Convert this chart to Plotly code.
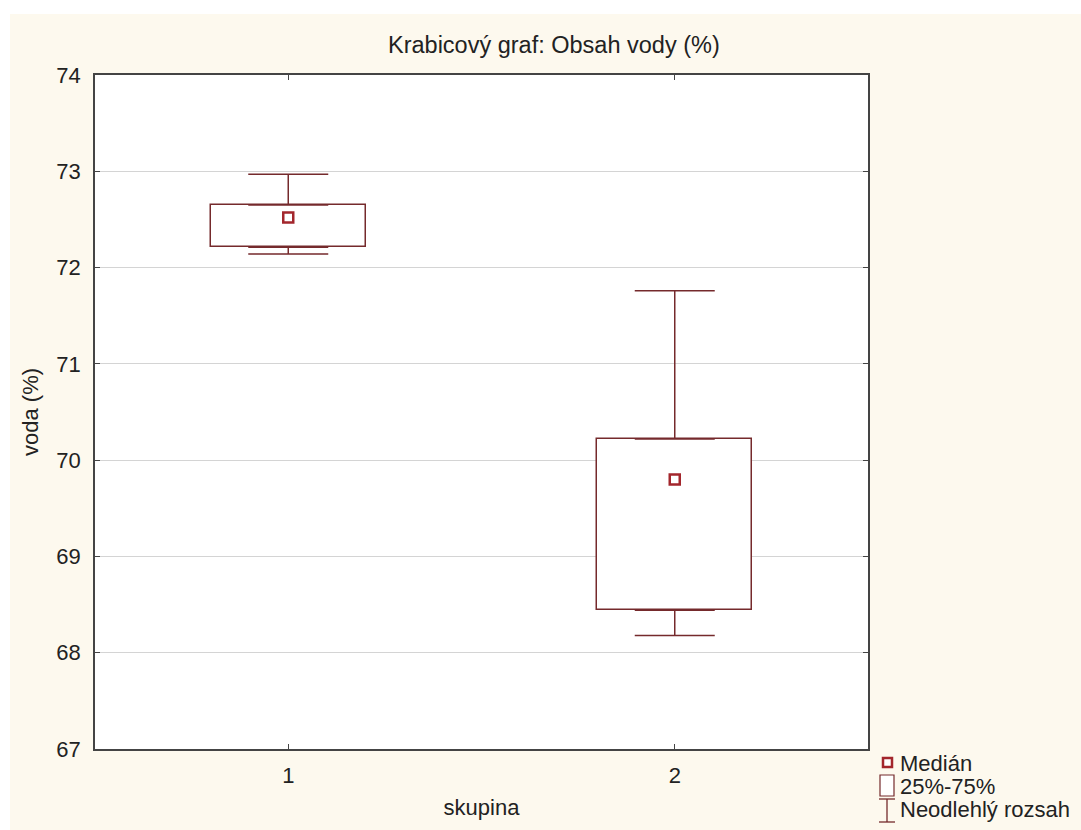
import plotly.graph_objects as go

# Box-plot statistics of water content per group
groups = [1, 2]
medians = [72.52, 69.80]
q1 = [72.21, 68.44]
q3 = [72.65, 70.22]
mins = [72.14, 68.18]
maxs = [72.97, 71.76]

W, H = 1081, 830
ML, MR, MT, MB = 95, 213, 75, 81
PW, PH = W - ML - MR, H - MT - MB

BOX_COLOR = "#752a2c"
MED_COLOR = "#a3262c"
TEXT = "#222222"
CREAM = "#fdf9ee"
FONT = "Liberation Sans, Arial, sans-serif"


def px(x):
    return (x - ML) / PW


def py(y):
    return (H - MB - y) / PH


fig = go.Figure()

# Interquartile boxes
fig.add_trace(go.Bar(
    x=groups,
    y=[b - a for a, b in zip(q1, q3)],
    base=q1,
    width=0.4,
    marker=dict(color="white", line=dict(color=BOX_COLOR, width=1.5)),
    showlegend=False,
    hoverinfo="skip",
))

# Upper whiskers from Q3 to max
fig.add_trace(go.Scatter(
    x=groups, y=q3, mode="markers",
    marker=dict(size=0.1, color="rgba(0,0,0,0)"),
    error_y=dict(type="data", symmetric=False,
                 array=[m - q for m, q in zip(maxs, q3)],
                 arrayminus=[0, 0],
                 color=BOX_COLOR, thickness=1.5, width=40),
    showlegend=False, hoverinfo="skip",
))

# Lower whiskers from min to Q1
fig.add_trace(go.Scatter(
    x=groups, y=q1, mode="markers",
    marker=dict(size=0.1, color="rgba(0,0,0,0)"),
    error_y=dict(type="data", symmetric=False,
                 array=[0, 0],
                 arrayminus=[q - m for m, q in zip(mins, q1)],
                 color=BOX_COLOR, thickness=1.5, width=40),
    showlegend=False, hoverinfo="skip",
))

# Medians
fig.add_trace(go.Scatter(
    x=groups, y=medians, mode="markers",
    marker=dict(symbol="square", size=10, color="white",
                line=dict(color=MED_COLOR, width=2.5)),
    showlegend=False,
))

shapes = [
    # white strips along the top and left page edges
    dict(type="rect", xref="paper", yref="paper", x0=px(0), x1=px(W), y0=py(14), y1=py(0),
         fillcolor="white", line=dict(width=0), layer="below"),
    dict(type="rect", xref="paper", yref="paper", x0=px(0), x1=px(10), y0=py(H), y1=py(0),
         fillcolor="white", line=dict(width=0), layer="below"),
    # legend symbols
    dict(type="rect", xref="paper", yref="paper", x0=px(883), x1=px(892), y0=py(767), y1=py(758),
         fillcolor="white", line=dict(color=MED_COLOR, width=2.5)),
    dict(type="rect", xref="paper", yref="paper", x0=px(880), x1=px(894), y0=py(796), y1=py(775),
         fillcolor="white", line=dict(color=BOX_COLOR, width=1.2)),
    dict(type="line", xref="paper", yref="paper", x0=px(887), x1=px(887), y0=py(822), y1=py(799),
         line=dict(color=BOX_COLOR, width=1.3)),
    dict(type="line", xref="paper", yref="paper", x0=px(879), x1=px(895), y0=py(799), y1=py(799),
         line=dict(color=BOX_COLOR, width=1.3)),
    dict(type="line", xref="paper", yref="paper", x0=px(879), x1=px(895), y0=py(822), y1=py(822),
         line=dict(color=BOX_COLOR, width=1.3)),
]

legend_items = [("Medián", 763), ("25%-75%", 786), ("Neodlehlý rozsah", 809)]
annotations = [
    dict(text=t, xref="paper", yref="paper", x=px(898), y=py(yc), xanchor="left", yanchor="middle",
         showarrow=False, font=dict(family=FONT, size=22, color=TEXT))
    for t, yc in legend_items
]
annotations.append(dict(
    text="Krabicový graf: Obsah vody (%)", xref="paper", yref="paper",
    x=px(554), y=py(45), xanchor="center", yanchor="middle", showarrow=False,
    font=dict(family=FONT, size=23.5, color=TEXT)))

fig.update_layout(
    width=W, height=H,
    margin=dict(l=ML, r=MR, t=MT, b=MB, pad=0),
    paper_bgcolor=CREAM,
    plot_bgcolor="white",
    font=dict(family=FONT, size=21, color=TEXT),
    bargap=0,
    shapes=shapes,
    annotations=annotations,
    xaxis=dict(
        range=[0.5, 2.5], tickvals=groups, ticktext=[str(g) for g in groups],
        ticks="inside", ticklen=5, tickcolor="#444", mirror="ticks",
        showline=True, linecolor="#444", linewidth=1.5,
        showgrid=False, zeroline=False, ticklabelstandoff=6,
        tickfont=dict(size=22),
        title=dict(text="skupina", standoff=12, font=dict(size=22)),
    ),
    yaxis=dict(
        range=[67, 74], dtick=1,
        ticks="inside", ticklen=5, tickcolor="#444", mirror="ticks",
        showline=True, linecolor="#444", linewidth=1.5,
        showgrid=True, gridcolor="#d4d4d4", gridwidth=1, zeroline=False,
        ticklabelstandoff=8, tickfont=dict(size=22),
        title=dict(text="voda (%)", standoff=12, font=dict(size=22)),
    ),
)

fig.write_html("out.html")
